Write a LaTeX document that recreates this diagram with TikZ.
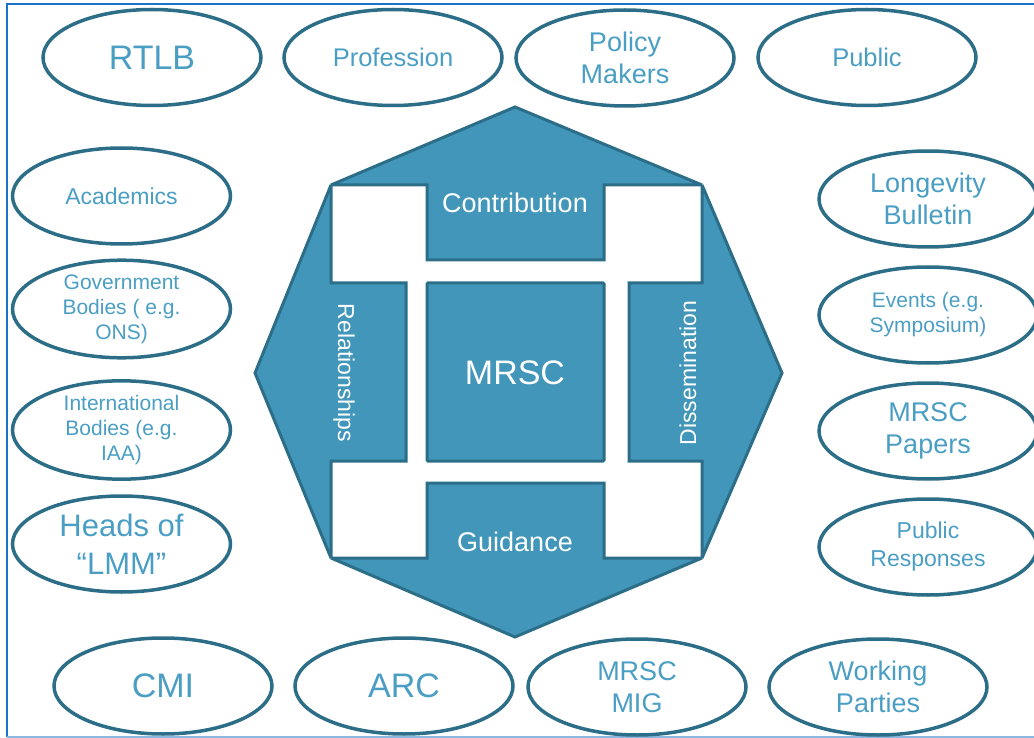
\documentclass[tikz,border=0pt]{standalone}
\usepackage{fontspec}
\setmainfont{Liberation Sans}
\usetikzlibrary{shapes.geometric}

\definecolor{fillblue}{RGB}{65,150,186}
\definecolor{edgeblue}{RGB}{44,110,136}
\definecolor{txtblue}{RGB}{74,158,196}
\definecolor{frameblue}{RGB}{26,115,200}
\definecolor{framelight}{RGB}{138,184,224}

\tikzset{
	ring/.style={ellipse, draw=edgeblue, line width=3.5pt, text=txtblue, align=center,
		inner sep=0pt, minimum width=218pt, minimum height=96pt},
	piece/.style={fill=fillblue, draw=edgeblue, line width=3pt, line join=miter, miter limit=1.5},
	inlabel/.style={text=white, inner sep=0pt},
	hugetxt/.style={font=\fontsize{34}{40}\selectfont},
	headtxt/.style={font=\fontsize{31}{38}\selectfont},
	bigtxt/.style={font=\fontsize{27}{32}\selectfont},
	midtxt/.style={font=\fontsize{25.5}{30}\selectfont},
	smalltxt/.style={font=\fontsize{23}{28}\selectfont},
	tinytxt/.style={font=\fontsize{21}{25}\selectfont}
}

\begin{document}
\begin{tikzpicture}[x=1pt, y=-1pt]
		\useasboundingbox (0, 0) rectangle (1034, 738);
		\draw[frameblue, line width=2pt] (1034, 4) -- (7, 4) -- (7, 737);
		\draw[framelight, line width=2pt] (7, 737) -- (1034, 737);
		
		\draw[piece] (331, 185) -- (515, 107) -- (702, 185) -- (604, 185) -- (604, 260) -- (427, 260) -- (427, 185) -- cycle;
		\draw[piece] (331, 185) -- (255, 373) -- (331, 558) -- (331, 461) -- (406, 461) -- (406, 283) -- (331, 283) -- cycle;
		\draw[piece] (702, 185) -- (782, 373) -- (702, 558) -- (702, 461) -- (629, 461) -- (629, 283) -- (702, 283) -- cycle;
		\draw[piece] (331, 558) -- (515, 637) -- (702, 558) -- (604, 558) -- (604, 483) -- (427, 483) -- (427, 558) -- cycle;
		\draw[piece, rounded corners=1pt] (427, 283) rectangle (604, 461);
		
		\node[inlabel, bigtxt] (contribution) at (515, 203) {Contribution};
		\node[inlabel, hugetxt] (mrsc) at (515, 373) {MRSC};
		\node[inlabel, bigtxt] (guidance) at (515, 542) {Guidance};
		\node[inlabel, smalltxt, rotate=-90] (relationships) at (344, 373) {Relationships};
		\node[inlabel, smalltxt, rotate=90] (dissemination) at (688, 373) {Dissemination};
		
		\node[ring, hugetxt] (rtlb) at (152, 57.5) {RTLB};
		\node[ring, midtxt] (profession) at (393, 57.5) {Profession};
		\node[ring, bigtxt] (policy) at (625, 58) {Policy\\Makers};
		\node[ring, midtxt] (public) at (867, 57.5) {Public};
		
		\node[ring, smalltxt] (academics) at (121.5, 196) {Academics};
		\node[ring, tinytxt] (government) at (121.5, 309) {Government\\Bodies ( e.g.\\ONS)};
		\node[ring, tinytxt] (international) at (121.5, 430) {International\\Bodies (e.g.\\IAA)};
		\node[ring, headtxt] (heads) at (121.5, 544) {Heads of\\``LMM''};
		
		\node[ring, bigtxt] (longevity) at (928, 199) {Longevity\\Bulletin};
		\node[ring, tinytxt] (events) at (928, 315) {Events (e.g.\\Symposium)};
		\node[ring, bigtxt] (papers) at (928, 431) {MRSC\\Papers};
		\node[ring, smalltxt] (responses) at (928, 547) {Public\\Responses};
		
		\node[ring, hugetxt] (cmi) at (163, 686) {CMI};
		\node[ring, hugetxt] (arc) at (404, 686) {ARC};
		\node[ring, bigtxt] (mig) at (637, 687) {MRSC\\MIG};
		\node[ring, bigtxt] (working) at (878, 687) {Working\\Parties};
	\end{tikzpicture}
\end{document}
